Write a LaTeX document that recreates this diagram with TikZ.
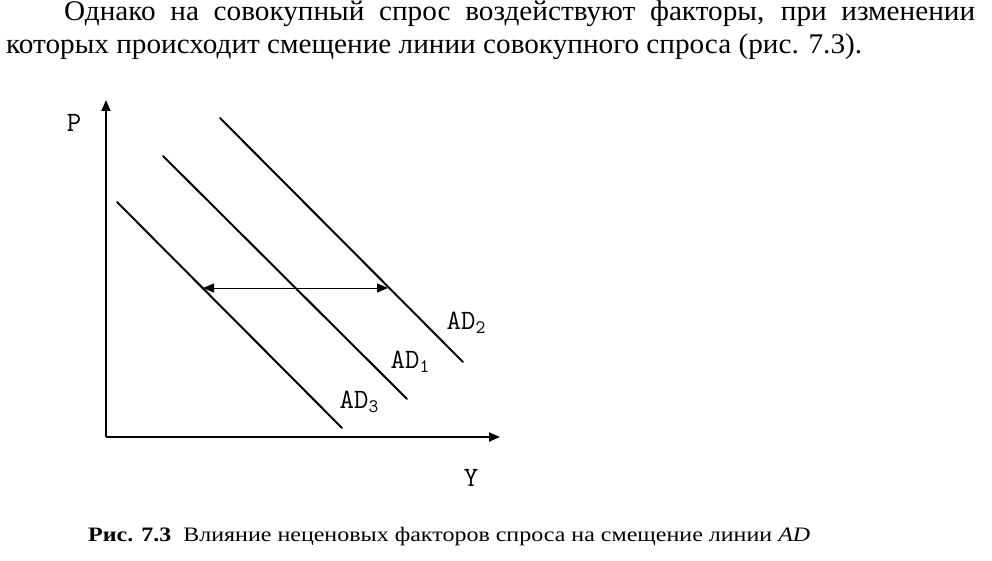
\documentclass[tikz,border=0pt]{standalone}
\usepackage{fontspec}
\usepackage{graphicx}
\setmainfont{Liberation Serif}
\usetikzlibrary{arrows.meta}
\newlength\LB
\newcommand\bodysize{\fontsize{28.5}{34}\selectfont}
\newcommand\labsub[1]{\raisebox{-4pt}{\fontsize{19}{19}\selectfont #1}}
\AtBeginDocument{%
  \settowidth\LB{\normalfont\bodysize которых происходит смещение линии совокупного спроса (рис. 7.3).}%
  \pgfmathsetmacro\sx{856/\LB}%
  \pgfmathsetlengthmacro\wone{911/\sx}%
  \xdef\sx{\sx}\xdef\wone{\wone}}
\tikzset{
  curve/.style={line width=2pt, line cap=round},
  axis/.style={line width=1.8pt, -{Triangle[length=11pt,width=9pt]}},
  shiftarrow/.style={line width=1pt, {Triangle[length=11pt,width=9pt]}-{Triangle[length=11pt,width=9pt]}},
  lab/.style={inner sep=0pt, font=\ttfamily\fontsize{28}{28}\selectfont},
  txt/.style={inner sep=0pt, anchor=base west}
}
\begin{document}
\begin{tikzpicture}[x=1pt,y=-1pt]
\useasboundingbox (0,0) rectangle (992,561);
\node[txt] (l1) at (64,21) {\scalebox{\sx}[1]{\makebox[\wone][s]{\bodysize Однако на совокупный спрос воздействуют факторы, при изменении}}};
\node[txt] (l2) at (6,54) {\scalebox{\sx}[1]{\bodysize которых происходит смещение линии совокупного спроса (рис. 7.3).}};
% axes
\coordinate (o) at (106,437);
\coordinate (ytop) at (106,100);
\coordinate (xend) at (500,437);
\draw[axis] (o) -- (ytop);
\draw[axis] (o) -- (xend);
\node[lab] (P) at (74,123) {P};
\node[lab] (Y) at (471,478) {Y};
% demand lines
\coordinate (a3s) at (117,202); \coordinate (a3e) at (342,428);
\coordinate (a1s) at (163,156); \coordinate (a1e) at (407,399);
\coordinate (a2s) at (220,118); \coordinate (a2e) at (463,362);
\draw[curve] (a3s) -- (a3e);
\draw[curve] (a1s) -- (a1e);
\draw[curve] (a2s) -- (a2e);
\node[lab] (ad2) at (466,323) {AD\labsub{2}};
\node[lab] (ad1) at (410,362) {AD\labsub{1}};
\node[lab] (ad3) at (359,402) {AD\labsub{3}};
% shift arrow
\coordinate (sl) at (203,288);
\coordinate (sr) at (388,288);
\draw[shiftarrow] (sl) -- (sr);
% caption
\node[txt] (cap) at (88,541) {\resizebox{722pt}{\height}{\fontsize{20.5}{24}\selectfont\textbf{Рис. 7.3}\ \ Влияние неценовых факторов спроса на смещение линии \textit{AD}}};
\end{tikzpicture}
\end{document}
